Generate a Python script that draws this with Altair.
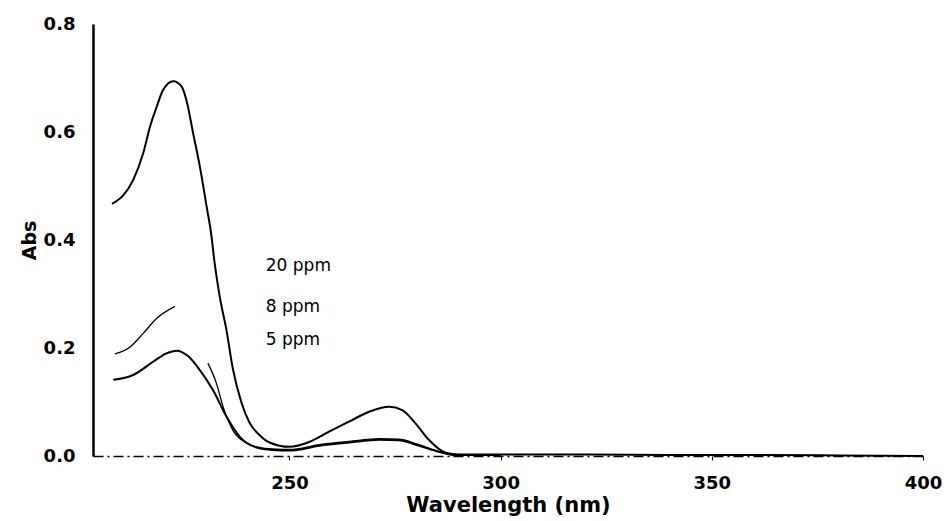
import altair as alt
import pandas as pd

# 20 ppm spectrum
wl_20 = [208.0, 210.7, 213.0, 215.4, 217.0, 218.6, 220.1, 222.5, 224.5, 225.8, 227.2, 228.8,
         230.4, 231.5, 232.3, 233.5, 235.1, 236.6, 238.6, 240.6, 242.9, 245.3, 250.0, 254.7,
         259.4, 264.2, 268.9, 273.6, 276.7, 279.9, 283.0, 287.0, 290.0, 300, 320, 340, 360,
         380, 400]
abs_20 = [0.467, 0.483, 0.511, 0.561, 0.61, 0.647, 0.678, 0.694, 0.684, 0.653, 0.598, 0.536,
          0.462, 0.41, 0.357, 0.295, 0.233, 0.162, 0.1, 0.061, 0.039, 0.025, 0.017, 0.026,
          0.045, 0.064, 0.082, 0.091, 0.085, 0.06, 0.03, 0.006, 0.003, 0.003, 0.003, 0.002,
          0.002, 0.001, 0.0]

# 8 ppm spectrum (two traced pieces, gap near 223-231 nm)
wl_8a = [208.7, 212.3, 215.4, 218.6, 222.9]
abs_8a = [0.189, 0.202, 0.227, 0.255, 0.277]
wl_8b = [230.7, 232.7, 234.3, 236.6, 239.8, 242.9, 246.0, 250.0, 257.1, 264.2, 271.2, 275.9,
         280.7, 285.4, 289.3, 295, 300]
abs_8b = [0.172, 0.135, 0.091, 0.048, 0.024, 0.016, 0.013, 0.012, 0.021, 0.027, 0.032, 0.031,
          0.021, 0.008, 0.002, 0.002, 0.002]

# 5 ppm spectrum
wl_5 = [208.3, 213.0, 217.8, 220.9, 223.3, 226.0, 228.8, 231.9, 235.1, 238.2, 242.1, 246.0,
        250.0, 257.1, 264.2, 271.2, 275.9, 280.7, 285.4, 289.3, 295, 300]
abs_5 = [0.141, 0.15, 0.175, 0.19, 0.195, 0.185, 0.159, 0.122, 0.073, 0.036, 0.016, 0.011,
         0.01, 0.019, 0.025, 0.03, 0.029, 0.019, 0.008, 0.002, 0.002, 0.002]

label_text = ["20 ppm", "8 ppm", "5 ppm"]
label_x = [244.4, 244.4, 244.4]
label_y = [0.352, 0.276, 0.214]

x_scale = alt.Scale(domain=[203.5, 400], nice=False, zero=False)
y_scale = alt.Scale(domain=[0, 0.8], nice=False)

x_axis = alt.Axis(title="Wavelength (nm)", values=[250, 300, 350, 400], grid=False,
                  domainColor="black", domainWidth=1.3, domainDash=[10, 4, 2, 4],
                  tickColor="black", tickSize=4, labelPadding=14, labelFlush=False,
                  labelFont="DejaVu Sans", labelFontWeight="bold", labelFontSize=18,
                  labelColor="black", titleFont="DejaVu Sans", titleFontWeight="bold",
                  titleFontSize=21, titleColor="black", titlePadding=2)
y_axis = alt.Axis(title="Abs", values=[0, 0.2, 0.4, 0.6, 0.8], format=".1f", grid=False,
                  domainColor="black", domainWidth=2.5, ticks=False, labelPadding=18,
                  labelFlush=False,
                  labelFont="DejaVu Sans", labelFontWeight="bold", labelFontSize=18,
                  labelColor="black", titleFont="DejaVu Sans", titleFontWeight="bold",
                  titleFontSize=19, titleColor="black", titlePadding=4)


def curve(wl, ab, width):
    d = pd.DataFrame({"wl": wl, "abs": ab})
    return alt.Chart(d).mark_line(color="black", strokeWidth=width,
                                  interpolate="monotone").encode(
        x=alt.X("wl:Q", scale=x_scale, axis=x_axis, title="Wavelength (nm)"),
        y=alt.Y("abs:Q", scale=y_scale, axis=y_axis, title="Abs"),
    )


labels = pd.DataFrame({"wl": label_x, "abs": label_y, "text": label_text})
texts = alt.Chart(labels).mark_text(align="left", baseline="middle", font="DejaVu Sans",
                                    fontSize=17, color="black").encode(
    x=alt.X("wl:Q", scale=x_scale, axis=x_axis, title="Wavelength (nm)"),
    y=alt.Y("abs:Q", scale=y_scale, axis=y_axis, title="Abs"),
    text="text:N",
)

chart = alt.layer(
    curve(wl_20, abs_20, 2.0),
    curve(wl_8a, abs_8a, 1.3),
    curve(wl_8b, abs_8b, 1.3),
    curve(wl_5, abs_5, 2.0),
    texts,
).properties(
    width=830, height=432,
    autosize=alt.AutoSizeParams(type="none"),
    padding={"left": 85, "top": 16, "right": 20, "bottom": 60},
    background="white",
).configure_view(stroke=None)

chart.save("out.html", embed_options={"renderer": "svg", "actions": False})
